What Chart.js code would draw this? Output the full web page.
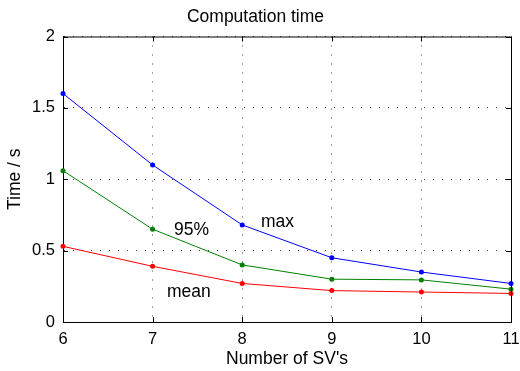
<!DOCTYPE html>
<html>
<head>
<meta charset="utf-8">
<script src="https://cdn.jsdelivr.net/npm/chart.js@4.4.0/dist/chart.umd.min.js"></script>
<style>
  body { margin: 0; background: #fff; }
</style>
</head>
<body>
<canvas id="myChart" width="520" height="371"></canvas>
<script>
// number of SV's on the x axis
const svCounts = [6, 7, 8, 9, 10, 11];
// computation time in seconds
const maxTimes = [1.60, 1.10, 0.68, 0.45, 0.35, 0.27];
const p95Times = [1.06, 0.65, 0.40, 0.30, 0.295, 0.23];
const meanTimes = [0.53, 0.39, 0.27, 0.22, 0.21, 0.20];
const yTicks = [0, 0.5, 1, 1.5, 2];
// text labels next to the curves: [text, x, y]
const curveLabels = [["max", 8.21, 0.70], ["95%", 7.24, 0.644], ["mean", 7.16, 0.212]];

const fontFamily = "'Liberation Sans', Arial, Helvetica, sans-serif";

function toPoints(ys) {
    return svCounts.map((x, i) => ({ x: x, y: ys[i] }));
}

function series(label, ys, color) {
    return {
        label: label,
        data: toPoints(ys),
        borderColor: color,
        backgroundColor: color,
        pointBackgroundColor: color,
        pointBorderColor: color,
        borderWidth: 1,
        pointRadius: 2.5,
        pointBorderWidth: 0,
        tension: 0,
        clip: false
    };
}

// box on top/right plus inward tick marks on all four sides, and curve labels
const matlabBox = {
    id: "matlabBox",
    afterDraw(chart) {
        const ctx = chart.ctx;
        const a = chart.chartArea;
        const xs = chart.scales.x;
        const ys = chart.scales.y;
        ctx.save();
        ctx.strokeStyle = "#000";
        ctx.lineWidth = 1;
        ctx.beginPath();
        ctx.moveTo(a.left, a.top + 0.5);
        ctx.lineTo(a.right + 0.5, a.top + 0.5);
        ctx.lineTo(a.right + 0.5, a.bottom);
        ctx.stroke();
        const len = 5;
        ctx.beginPath();
        svCounts.forEach(v => {
            const px = Math.round(xs.getPixelForValue(v)) + 0.5;
            ctx.moveTo(px, a.bottom);
            ctx.lineTo(px, a.bottom - len);
            ctx.moveTo(px, a.top);
            ctx.lineTo(px, a.top + len);
        });
        yTicks.forEach(v => {
            const py = Math.round(ys.getPixelForValue(v)) + 0.5;
            ctx.moveTo(a.left, py);
            ctx.lineTo(a.left + len, py);
            ctx.moveTo(a.right, py);
            ctx.lineTo(a.right - len, py);
        });
        ctx.stroke();
        ctx.fillStyle = "#000";
        ctx.font = "17.5px " + fontFamily;
        ctx.textAlign = "left";
        ctx.textBaseline = "middle";
        curveLabels.forEach(l => {
            ctx.fillText(l[0], xs.getPixelForValue(l[1]), ys.getPixelForValue(l[2]));
        });
        ctx.restore();
    }
};

new Chart("myChart", {
    type: "line",
    data: {
        datasets: [
            series("mean", meanTimes, "#ff0000"),
            series("95%", p95Times, "#008000"),
            series("max", maxTimes, "#0000ff")
        ]
    },
    options: {
        responsive: false,
        animation: false,
        devicePixelRatio: 1,
        layout: { autoPadding: false, padding: { top: 0, right: 9, bottom: 0, left: 0 } },
        plugins: {
            legend: { display: false },
            tooltip: { enabled: false },
            title: {
                display: true,
                text: "Computation time",
                color: "#000",
                font: { family: fontFamily, size: 17.5, weight: "normal" },
                padding: { top: 6.5, bottom: 9 }
            }
        },
        scales: {
            x: {
                type: "linear",
                min: 6,
                max: 11,
                afterFit(scale) {
                    scale.height = 49;
                    scale.paddingLeft = 0;
                    scale.paddingRight = 0;
                },
                ticks: {
                    stepSize: 1,
                    padding: 8,
                    color: "#000",
                    font: { family: fontFamily, size: 16.5 }
                },
                grid: { color: "#444", drawTicks: false, lineWidth: 1 },
                border: { display: true, color: "#000", width: 1, dash: [1, 8] },
                title: {
                    display: true,
                    text: "Number of SV's",
                    color: "#000",
                    font: { family: fontFamily, size: 17.5 },
                    padding: { top: 0, bottom: 1 }
                }
            },
            y: {
                min: 0,
                max: 2,
                afterFit(scale) {
                    scale.width = 63;
                    scale.paddingTop = 0;
                    scale.paddingBottom = 0;
                },
                ticks: {
                    stepSize: 0.5,
                    padding: 8,
                    color: "#000",
                    font: { family: fontFamily, size: 16.5 },
                    callback: v => String(v)
                },
                grid: { color: "#444", drawTicks: false, lineWidth: 1 },
                border: { display: true, color: "#000", width: 1, dash: [1, 8] },
                title: {
                    display: true,
                    text: "Time / s",
                    color: "#000",
                    font: { family: fontFamily, size: 17.5 },
                    padding: { top: 5, bottom: 0 }
                }
            }
        }
    },
    plugins: [matlabBox]
});
</script>
</body>
</html>
